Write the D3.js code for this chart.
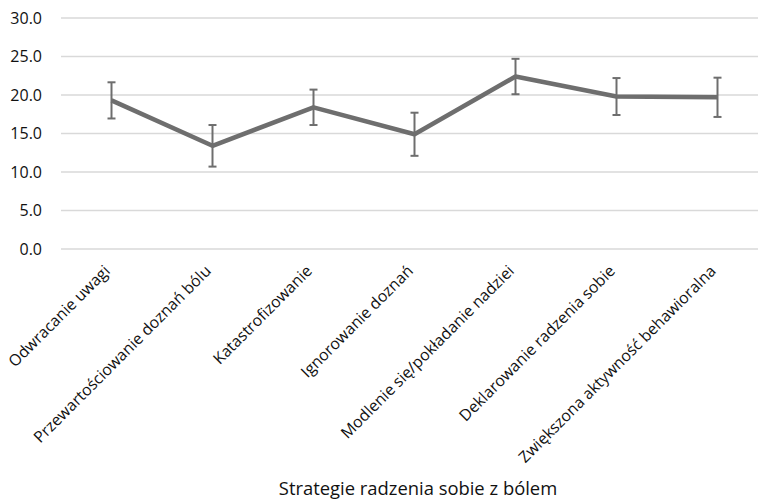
<!DOCTYPE html>
<html>
<head>
<meta charset="utf-8">
<script src="https://cdn.jsdelivr.net/npm/d3@7"></script>
<style>
  html, body { margin: 0; padding: 0; background: #fff; }
  svg { display: block; font-family: "Open Sans", sans-serif; }
</style>
</head>
<body>
<svg id="chart" width="758" height="504"></svg>
<script>
// Coping strategies and their mean scores with error margins
const categories = [
  "Odwracanie uwagi",
  "Przewartościowanie doznań bólu",
  "Katastrofizowanie",
  "Ignorowanie doznań",
  "Modlenie się/pokładanie nadziei",
  "Deklarowanie radzenia sobie",
  "Zwiększona aktywność behawioralna"
];
const means = [19.3, 13.4, 18.4, 14.9, 22.4, 19.8, 19.7];
const errors = [2.35, 2.7, 2.3, 2.8, 2.3, 2.4, 2.55];
const yTicks = [0, 5, 10, 15, 20, 25, 30];
const xTitle = "Strategie radzenia sobie z bólem";

const svg = d3.select("#chart");
const plot = { left: 61, right: 768, top: 18, bottom: 249 };

const x = d3.scalePoint().domain(categories).range([plot.left, plot.right]).padding(0.5);
const y = d3.scaleLinear().domain([0, 30]).range([plot.bottom, plot.top]);

// horizontal gridlines
svg.append("g").selectAll("line").data(yTicks).join("line")
  .attr("x1", plot.left).attr("x2", plot.right)
  .attr("y1", d => y(d)).attr("y2", d => y(d))
  .attr("stroke", "#d9d9d9").attr("stroke-width", 1.3);

// y axis labels
const yAxis = d3.axisLeft(y).tickValues(yTicks).tickFormat(d3.format(".1f")).tickSize(0).tickPadding(0);
const gy = svg.append("g").attr("transform", `translate(42,0)`).call(yAxis);
gy.select(".domain").remove();
gy.selectAll("text").attr("font-size", 16).attr("fill", "#111")
  .attr("font-family", "Open Sans, sans-serif");

// x category labels, rotated
const xAxis = d3.axisBottom(x).tickSize(0).tickPadding(0);
const gx = svg.append("g").attr("transform", `translate(0,${plot.bottom})`).call(xAxis);
gx.select(".domain").remove();
gx.selectAll("text")
  .attr("font-size", 15.8).attr("fill", "#111")
  .attr("font-family", "Open Sans, sans-serif")
  .attr("text-anchor", "end")
  .attr("dy", "0")
  .attr("transform", "translate(-1,23) rotate(-45)");

// error bars
const eb = svg.append("g").attr("stroke", "#6e6e6e").attr("stroke-width", 2);
categories.forEach((c, i) => {
  const cx = x(c), hi = y(means[i] + errors[i]), lo = y(means[i] - errors[i]);
  eb.append("line").attr("x1", cx).attr("x2", cx).attr("y1", hi).attr("y2", lo);
  eb.append("line").attr("x1", cx - 4).attr("x2", cx + 4).attr("y1", hi).attr("y2", hi);
  eb.append("line").attr("x1", cx - 4).attr("x2", cx + 4).attr("y1", lo).attr("y2", lo);
});

// mean line
const line = d3.line().x((d, i) => x(categories[i])).y(d => y(d));
svg.append("path").datum(means)
  .attr("d", line)
  .attr("fill", "none")
  .attr("stroke", "#6e6e6e")
  .attr("stroke-width", 4.5)
  .attr("stroke-linejoin", "round");

// axis title
svg.append("text")
  .attr("x", (278 + 558) / 2).attr("y", 495)
  .attr("text-anchor", "middle")
  .attr("font-size", 18.4).attr("fill", "#111")
  .text(xTitle);
</script>
</body>
</html>
